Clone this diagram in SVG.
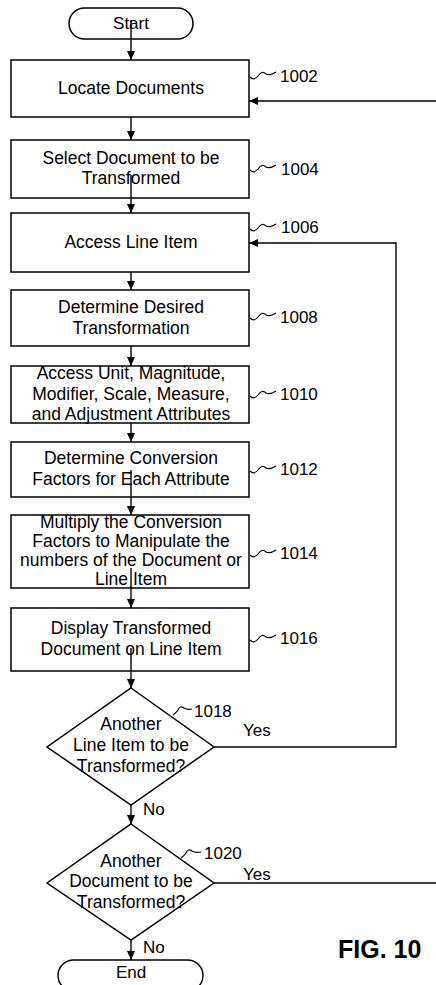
<svg xmlns="http://www.w3.org/2000/svg" width="436" height="985" viewBox="0 0 436 985">
<style>
.box{fill:#fff;stroke:#000;stroke-width:1.5}
.t{font-family:"Liberation Sans",Arial,sans-serif;font-size:17.5px;fill:#000;text-anchor:middle}
.lbl{font-family:"Liberation Sans",Arial,sans-serif;font-size:17px;fill:#000}
.sq{fill:none;stroke:#000;stroke-width:1.2}
.c{fill:none;stroke:#000;stroke-width:1.4}
</style>
<defs>
<marker id="ah" markerUnits="userSpaceOnUse" markerWidth="9" markerHeight="8" refX="9" refY="4" orient="auto">
<path d="M0,0 L9,4 L0,8 z" fill="#000"/>
</marker>
</defs>
<rect width="436" height="985" fill="#fff"/>
<g id="start">
<rect class="box" x="69" y="8" width="124" height="31" rx="15.5"/>
<text class="t" x="131" y="29" style="font-size:17px">Start</text>
</g>
<g id="n1002">
<rect class="box" x="11" y="60" width="238" height="57"/>
<text class="t" x="131" y="94">Locate Documents</text>
<path class="sq" d="M250,77 Q254,81 258,76 Q262,70 266,74 Q270,76 276,72"/>
<text class="lbl" x="280" y="82">1002</text>
</g>
<g id="n1004">
<rect class="box" x="11" y="140" width="238" height="58"/>
<text class="t" x="131" y="164">Select Document to be</text>
<text class="t" x="131" y="184">Transformed</text>
<path class="sq" d="M250,170 Q254,174 258,169 Q262,163 266,167 Q270,169 276,165"/>
<text class="lbl" x="281" y="175">1004</text>
</g>
<g id="n1006">
<rect class="box" x="11" y="213" width="238" height="59"/>
<text class="t" x="131" y="248">Access Line Item</text>
<path class="sq" d="M250,229 Q254,233 258,228 Q262,222 266,226 Q270,228 276,224"/>
<text class="lbl" x="281" y="233">1006</text>
</g>
<g id="n1008">
<rect class="box" x="11" y="290" width="238" height="56"/>
<text class="t" x="131" y="313">Determine Desired</text>
<text class="t" x="131" y="334">Transformation</text>
<path class="sq" d="M250,318 Q254,322 258,317 Q262,311 266,315 Q270,317 276,313"/>
<text class="lbl" x="280" y="323">1008</text>
</g>
<g id="n1010">
<rect class="box" x="11" y="366" width="238" height="57"/>
<text class="t" x="131" y="379">Access Unit, Magnitude,</text>
<text class="t" x="131" y="400">Modifier, Scale, Measure,</text>
<text class="t" x="131" y="420">and Adjustment Attributes</text>
<path class="sq" d="M250,396 Q254,400 258,395 Q262,389 266,393 Q270,395 276,391"/>
<text class="lbl" x="280" y="400">1010</text>
</g>
<g id="n1012">
<rect class="box" x="11" y="442" width="238" height="55"/>
<text class="t" x="131" y="464">Determine Conversion</text>
<text class="t" x="131" y="485">Factors for Each Attribute</text>
<path class="sq" d="M250,471 Q254,475 258,470 Q262,464 266,468 Q270,470 276,466"/>
<text class="lbl" x="280" y="475">1012</text>
</g>
<g id="n1014">
<rect class="box" x="11" y="515" width="238" height="73"/>
<text class="t" x="131" y="528">Multiply the Conversion</text>
<text class="t" x="131" y="547">Factors to Manipulate the</text>
<text class="t" x="131" y="566">numbers of the Document or</text>
<text class="t" x="131" y="585">Line Item</text>
<path class="sq" d="M250,555 Q254,559 258,554 Q262,548 266,552 Q270,554 276,550"/>
<text class="lbl" x="280" y="559">1014</text>
</g>
<g id="n1016">
<rect class="box" x="11" y="608" width="238" height="63"/>
<text class="t" x="131" y="634">Display Transformed</text>
<text class="t" x="131" y="655">Document on Line Item</text>
<path class="sq" d="M250,640 Q254,644 258,639 Q262,633 266,637 Q270,639 276,635"/>
<text class="lbl" x="280" y="644">1016</text>
</g>
<g id="n1018">
<polygon class="box" points="131,688 214,747 131,805 47,747"/>
<text class="t" x="131" y="730">Another</text>
<text class="t" x="131" y="751">Line Item to be</text>
<text class="t" x="131" y="772">Transformed?</text>
<path class="sq" d="M173,715 Q176,713 178,710 Q180,705 184,708 Q187,710 192,709"/>
<text class="lbl" x="194" y="717">1018</text>
</g>
<g id="n1020">
<polygon class="box" points="131,824 214,883 131,940 47,883"/>
<text class="t" x="131" y="867">Another</text>
<text class="t" x="131" y="887">Document to be</text>
<text class="t" x="131" y="908">Transformed?</text>
<path class="sq" d="M181,858 Q184,856 186,853 Q188,848 192,851 Q195,853 201,852"/>
<text class="lbl" x="204" y="859">1020</text>
</g>
<g id="end">
<rect class="box" x="58" y="960" width="145" height="31" rx="15.5"/>
<text class="t" x="131" y="978" style="font-size:17px">End</text>
</g>
<g id="connectors">
<path class="c" d="M131,20 V60" marker-end="url(#ah)"/>
<path class="c" d="M131,117 V140" marker-end="url(#ah)"/>
<path class="c" d="M131,175 V213" marker-end="url(#ah)"/>
<path class="c" d="M131,272 V290" marker-end="url(#ah)"/>
<path class="c" d="M131,346 V366" marker-end="url(#ah)"/>
<path class="c" d="M131,423 V442" marker-end="url(#ah)"/>
<path class="c" d="M131,470 V515" marker-end="url(#ah)"/>
<path class="c" d="M131,568 V608" marker-end="url(#ah)"/>
<path class="c" d="M131,648 V688" marker-end="url(#ah)"/>
<path class="c" d="M131,805 V824" marker-end="url(#ah)"/>
<path class="c" d="M131,940 V960" marker-end="url(#ah)"/>
<path class="c" d="M214,747 H396 V243 H249" marker-end="url(#ah)"/>
<path class="c" d="M214,883 H436"/>
<path class="c" d="M436,101 H249" marker-end="url(#ah)"/>
<text class="lbl" x="143" y="815">No</text>
<text class="lbl" x="143" y="953">No</text>
<text class="lbl" x="243" y="736">Yes</text>
<text class="lbl" x="243" y="880">Yes</text>
</g>
<text x="338" y="958" style="font-family:'Liberation Sans',Arial,sans-serif;font-size:25px;font-weight:bold">FIG. 10</text>
</svg>
